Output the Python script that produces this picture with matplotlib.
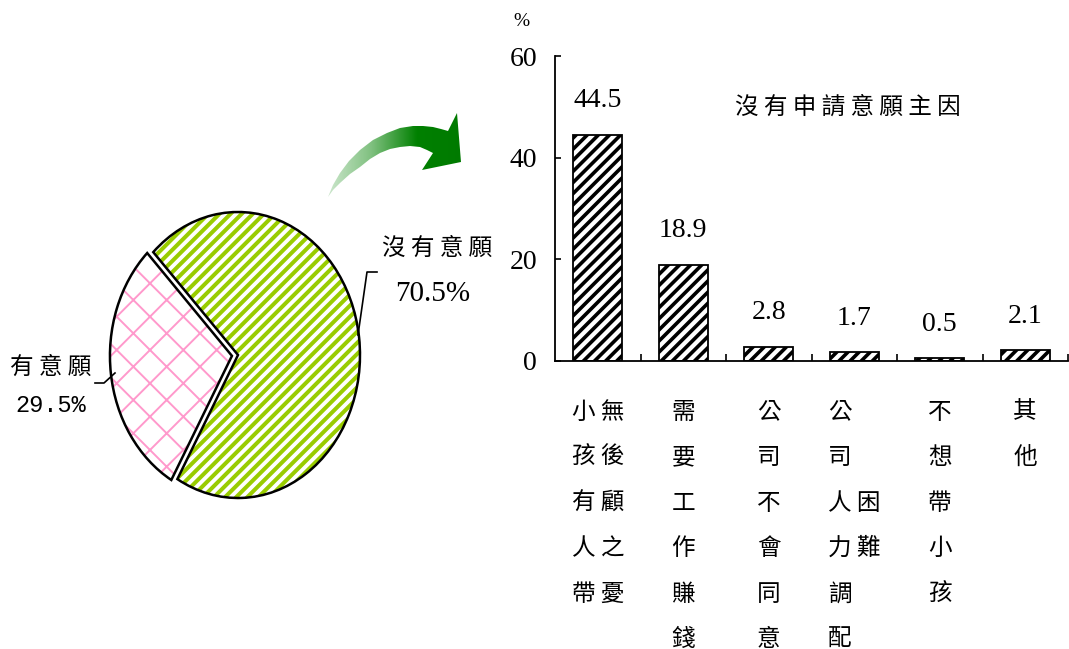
import numpy as np
import matplotlib
matplotlib.use("Agg")
import matplotlib.pyplot as plt
from matplotlib.path import Path
from matplotlib.patches import PathPatch
from matplotlib.colors import LinearSegmentedColormap

plt.rcParams['font.family'] = ['Noto Sans CJK TC', 'DejaVu Sans']
plt.rcParams['hatch.linewidth'] = 2.6

# ---------------- data ----------------
pie_labels = ['沒有意願', '有意願']
pie_values = [70.5, 29.5]
pie_colors = ['#99CC00', '#FF99CC']

bar_title = '沒有申請意願主因'
bar_categories = ['小 無\n孩 後\n有 顧\n人 之\n帶 憂',
                  '需\n要\n工\n作\n賺\n錢',
                  '公\n司\n不\n會\n同\n意',
                  '公\n司\n人 困\n力 難\n調\n配',
                  '不\n想\n帶\n小\n孩',
                  '其\n他']
bar_values = [44.5, 18.9, 2.8, 1.7, 0.5, 2.1]
y_ticks = [0, 20, 40, 60]

W, H = 1069, 649
fig = plt.figure(figsize=(W / 100, H / 100), dpi=100)

def fx(px):
    return px / W

def fy(py):
    return 1 - py / H

serif = 'Liberation Serif'
cjk = ['Noto Sans CJK TC', 'DejaVu Sans']

# ---------------- bar chart ----------------
ax = fig.add_axes([fx(555), fy(361), fx(1068 - 555), (361 - 56) / H])
x = np.arange(len(bar_values))
bars = ax.bar(x, bar_values, width=0.57, color='white', edgecolor='black',
              hatch='///', linewidth=1.3, zorder=2)
for b in bars:
    if hasattr(b, 'set_hatch_linewidth'):
        b.set_hatch_linewidth(2.6)
ax.set_xlim(-0.5, len(bar_values) - 0.5)
ax.set_ylim(0, 60)
for s in ['top', 'right']:
    ax.spines[s].set_visible(False)
for s in ['left', 'bottom']:
    ax.spines[s].set_linewidth(1.3)
ax.set_yticks(y_ticks)
ax.set_yticklabels([str(t) for t in y_ticks], fontfamily=serif, fontsize=20)
ax.tick_params(axis='y', direction='in', length=4.5, width=1.2, pad=13)
ax.set_xticks(x)
ax.set_xticklabels(bar_categories, fontsize=17, fontfamily=cjk)
ax.set_xticks(np.arange(len(bar_values)) + 0.5, minor=True)
ax.tick_params(axis='x', which='major', length=0, pad=28.5)
ax.tick_params(axis='x', which='minor', direction='in', length=5, width=1.2)
for t in ax.get_xticklabels():
    t.set_linespacing(2.25)
    t.set_multialignment('left')
for xi, v in zip(x, bar_values):
    ax.annotate(f'{v}', (xi, v), xytext=(0, 24.5), textcoords='offset points',
                ha='center', va='center', fontsize=20, fontfamily=serif)
fig.text(fx(521), fy(21), '%', ha='center', va='center', fontsize=14, fontfamily=serif)
fig.text(fx(848), fy(107), ' '.join(bar_title), ha='center', va='center',
         fontsize=17, fontfamily=cjk)

# ---------------- pie chart ----------------
cx, cy, rx, ry = 238, 355, 122, 143
axp = fig.add_axes([fx(cx - 1.25 * rx), fy(cy + 1.25 * ry), fx(2.5 * rx), 2.5 * ry / H])
explode = [0, 0.05]
start = 134
w_fill, _ = axp.pie(pie_values, explode=explode, startangle=start, counterclock=False,
                    colors=['white', 'white'],
                    wedgeprops=dict(linewidth=0))
hatches = ['///', 'x']
for w, c, h in zip(w_fill, pie_colors, hatches):
    w.set_edgecolor(c)
    w.set_hatch(h)
    w.set_linewidth(0)
    if hasattr(w, 'set_hatch_linewidth'):
        w.set_hatch_linewidth(2.9 if h == '///' else 1.4)
w_edge, _ = axp.pie(pie_values, explode=explode, startangle=start, counterclock=False,
                    wedgeprops=dict(fill=False, edgecolor='black', linewidth=1.8))
axp.set_aspect('auto')
axp.set_xlim(-1.25, 1.25)
axp.set_ylim(-1.25, 1.25)

# ---------------- overlay: labels, leader lines, arrow ----------------
ov = fig.add_axes([0, 0, 1, 1], zorder=5)
ov.set_xlim(0, W)
ov.set_ylim(H, 0)
ov.set_axis_off()

ov.text(437, 248, ' '.join(pie_labels[0]), ha='center', va='center', fontsize=17, fontfamily=cjk)
ov.text(433, 294, f'{pie_values[0]}%', ha='center', va='center', fontsize=21, fontfamily=serif)
ov.text(51, 367, ' '.join(pie_labels[1]), ha='center', va='center', fontsize=17, fontfamily=cjk)
ov.text(51, 405, f'{pie_values[1]}%', ha='center', va='center', fontsize=17,
        fontfamily='Liberation Mono')
ov.plot([377, 367, 358], [272, 272, 335], color='black', lw=1.2)
ov.plot([95, 104, 115], [383, 383, 373], color='black', lw=1.2)

upper = [(328, 197), (333, 185), (340, 173), (349, 161), (360, 150), (373, 140),
         (387, 133), (400, 128), (413, 126), (423, 126), (433, 127), (441, 129),
         (448, 131)]
head = [(457, 113), (461, 162), (422, 170)]
lower = [(433, 153), (427, 150), (420, 147), (410, 146), (400, 147), (390, 149),
         (380, 153), (370, 159), (360, 167), (350, 174), (340, 183), (333, 190)]
verts = upper + head + lower + [(328, 197)]
codes = [Path.MOVETO] + [Path.LINETO] * (len(verts) - 2) + [Path.CLOSEPOLY]
arrow_path = Path(verts, codes)
patch = PathPatch(arrow_path, facecolor='none', edgecolor='none')
ov.add_patch(patch)
cmap = LinearSegmentedColormap.from_list('g', ['#cfe8cf', '#7fc07f', '#008000', '#007a00'])
grad = np.linspace(0, 1, 256).reshape(1, -1)
im = ov.imshow(grad, cmap=cmap, extent=(326, 463, 200, 108), aspect='auto',
               interpolation='bilinear')
im.set_clip_path(patch)
ov.set_xlim(0, W)
ov.set_ylim(H, 0)

fig.savefig('out.png', dpi=100)
